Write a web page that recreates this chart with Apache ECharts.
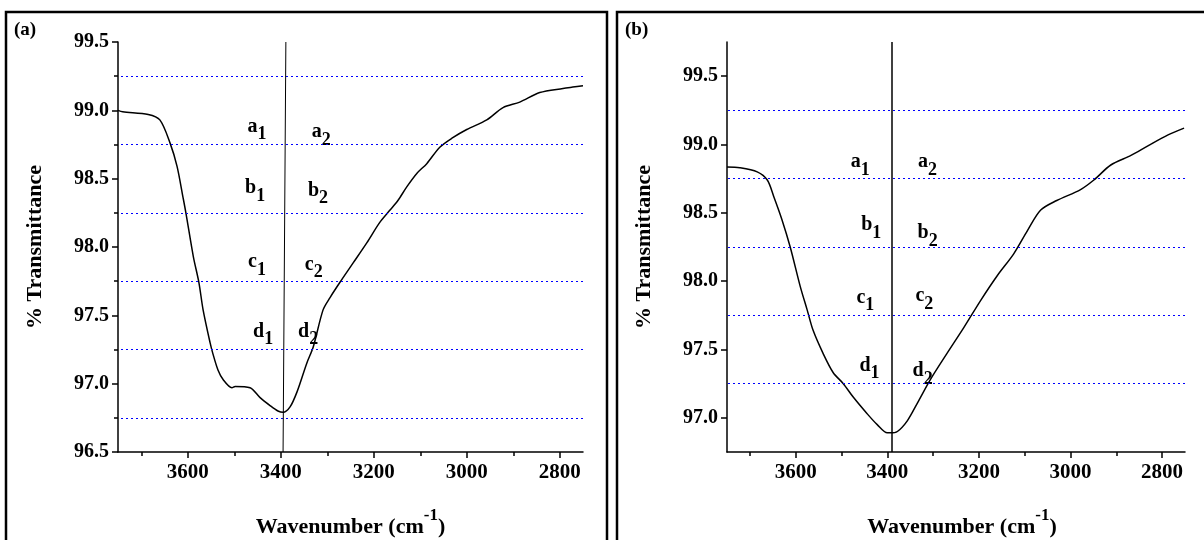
<!DOCTYPE html>
<html><head><meta charset="utf-8">
<script src="https://cdn.jsdelivr.net/npm/echarts@6.0.0/dist/echarts.min.js"></script>
<style>html,body{margin:0;padding:0;background:#fff}#c{width:1204px;height:540px}</style>
</head><body><div id="c"></div>
<script>
// ---- data ----
const waveA = [3750,3740,3685,3660,3638,3623,3610,3604,3588,3576,3567,3552,3546,3535,3524,3505,3498,3466,3445,3423,3406,3395,3380,3365,3344,3330,3309,3294,3273,3245,3215,3187,3165,3148,3129,3107,3086,3058,3030,3000,2957,2922,2886,2843,2793,2772,2750];
const transA = [99.00,98.99,98.97,98.93,98.76,98.59,98.36,98.25,97.93,97.74,97.54,97.30,97.22,97.10,97.03,96.97,96.98,96.97,96.90,96.84,96.80,96.79,96.83,96.94,97.15,97.27,97.54,97.63,97.74,97.88,98.03,98.18,98.27,98.34,98.44,98.54,98.61,98.73,98.80,98.86,98.93,99.02,99.06,99.13,99.16,99.17,99.18];
const waveB = [3750,3722,3684,3662,3648,3630,3612,3590,3575,3562,3540,3518,3496,3474,3444,3422,3400,3393,3378,3356,3334,3306,3270,3233,3196,3160,3124,3094,3065,3030,2978,2949,2912,2868,2831,2787,2752];
const transB = [98.835,98.83,98.80,98.74,98.62,98.45,98.25,97.96,97.79,97.64,97.47,97.33,97.25,97.15,97.03,96.95,96.89,96.89,96.90,96.98,97.11,97.28,97.47,97.66,97.86,98.04,98.20,98.37,98.52,98.59,98.67,98.74,98.85,98.92,98.99,99.07,99.12];
const xMajorTicks = [3600,3400,3200,3000,2800];
const xMinorTicks = [3700,3500,3300,3100,2900];
const yTicksA = [96.5,97.0,97.5,98.0,98.5,99.0,99.5];
const yMinorA = [96.75,97.25,97.75,98.25,98.75,99.25];
const yTicksB = [97.0,97.5,98.0,98.5,99.0,99.5];
const guideLevels = [96.75,97.25,97.75,98.25,98.75,99.25];
const peakLineA = [3389,3395];   // wavenumber at top / bottom of marker line (a)
const peakLineB = [3390,3390];   // (b)
const labelNames = ['a','a','b','b','c','c','d','d'];
const labelSubs = ['1','2','1','2','1','2','1','2'];
const labelWaveA = [3451,3313,3455,3320,3451,3329,3438,3341];
const labelTransA = [98.87,98.83,98.42,98.40,97.88,97.86,97.37,97.37];
const labelWaveB = [3459,3312,3435,3312,3448,3319,3439,3323];
const labelTransB = [98.86,98.86,98.40,98.34,97.87,97.88,97.37,97.33];

const FF = '"Liberation Serif","Times New Roman",serif';
const zip = (a,b) => a.map((v,i)=>[v,b[i]]);

function xAxes(g,shift){
  return [{
    gridIndex:g, type:'value', position:'bottom', min:2750, max:3750, inverse:true,
    axisLine:{show:true,onZero:false,lineStyle:{color:'#000',width:1.5}},
    axisTick:{show:true,customValues:xMajorTicks,length:6,lineStyle:{color:'#000',width:1.5}},
    axisLabel:{customValues:xMajorTicks,formatter:v=>String(v),fontFamily:FF,fontWeight:'bold',fontSize:21,color:'#000',margin:10},
    splitLine:{show:false},
    name:'{t|Wavenumber (cm}{s|-1}{t|)}', nameLocation:'middle', nameGap:55,
    nameTextStyle:{color:'#000',padding:[0,0,0,shift],rich:{
      t:{fontFamily:FF,fontWeight:'bold',fontSize:22,color:'#000',lineHeight:31,verticalAlign:'bottom'},
      s:{fontFamily:FF,fontWeight:'bold',fontSize:17,color:'#000',verticalAlign:'top'}
    }}
  },{
    gridIndex:g, type:'value', position:'bottom', offset:0, min:2750, max:3750, inverse:true,
    axisLine:{show:false,onZero:false},
    axisTick:{show:true,customValues:xMinorTicks,length:4,lineStyle:{color:'#000',width:1.5}},
    axisLabel:{show:false,customValues:xMinorTicks},
    splitLine:{show:false}
  }];
}
function yAxes(g,min,max,ticks,minor){
  const arr = [{
    gridIndex:g, type:'value', position:'left', min:min, max:max,
    axisLine:{show:true,onZero:false,lineStyle:{color:'#000',width:1.5}},
    axisTick:{show:true,customValues:ticks,length:6,lineStyle:{color:'#000',width:1.5}},
    axisLabel:{customValues:ticks,formatter:v=>v.toFixed(1),fontFamily:FF,fontWeight:'bold',fontSize:20,color:'#000',margin:9},
    splitLine:{show:false},
    name:'% Transmittance', nameLocation:'middle', nameRotate:90, nameGap:72,
    nameTextStyle:{fontFamily:FF,fontWeight:'bold',fontSize:22,color:'#000'}
  }];
  if(minor){
    arr.push({
      gridIndex:g, type:'value', position:'left', offset:0, min:min, max:max,
      axisLine:{show:false,onZero:false},
      axisTick:{show:true,customValues:minor,length:4,lineStyle:{color:'#000',width:1.5}},
      axisLabel:{show:false,customValues:minor},
      splitLine:{show:false}
    });
  }
  return arr;
}
function markLines(min,max,peak,peakWidth){
  return {
    silent:true, symbol:['none','none'], label:{show:false}, animation:false,
    data: guideLevels.filter(v=>v>min && v<max).map(v=>({yAxis:v,lineStyle:{color:'#0000ff',type:[2,3],width:1.2}}))
      .concat([[{coord:[peak[0],max],lineStyle:{color:'#000',type:'solid',width:peakWidth}},{coord:[peak[1],min]}]])
  };
}
function labelSeries(xi,yi,ws,ts){
  const tok = {fontFamily:FF,fontWeight:'bold',color:'#000',textBorderWidth:0,textBorderColor:'transparent',textShadowBlur:0};
  return {
    type:'scatter', xAxisIndex:xi, yAxisIndex:yi, symbolSize:0, silent:true,
    itemStyle:{color:'#000'},
    data: zip(ws,ts),
    label:{show:true,position:'inside',offset:[0,2],color:'#000',textBorderWidth:0,textBorderColor:'transparent',opacity:1,
      formatter:p=>'{l|'+labelNames[p.dataIndex]+'}{s|'+labelSubs[p.dataIndex]+'}',
      rich:{
        l:Object.assign({fontSize:20,verticalAlign:'top'},tok),
        s:Object.assign({fontSize:18,lineHeight:27,verticalAlign:'bottom'},tok)
      }}
  };
}

const chart = echarts.init(document.getElementById('c'),null,{renderer:'canvas'});
chart.setOption({
  animation:false,
  backgroundColor:'#fff',
  grid:[
    {left:118,top:42,width:465,height:410,containLabel:false,outerBoundsMode:'none'},
    {left:727,top:42,width:458,height:410,containLabel:false,outerBoundsMode:'none'}
  ],
  xAxis: xAxes(0,0).concat(xAxes(1,12)),
  yAxis: yAxes(0,96.5,99.5,yTicksA,yMinorA).concat(yAxes(1,96.75,99.75,yTicksB,null)),
  series:[
    {type:'line',xAxisIndex:0,yAxisIndex:0,data:zip(waveA,transA),symbol:'none',smooth:0.3,
     lineStyle:{color:'#000',width:1.5},silent:true,markLine:markLines(96.5,99.5,peakLineA,1)},
    labelSeries(0,0,labelWaveA,labelTransA),
    {type:'line',xAxisIndex:2,yAxisIndex:2,data:zip(waveB,transB),symbol:'none',smooth:0.3,
     lineStyle:{color:'#000',width:1.5},silent:true,markLine:markLines(96.75,99.75,peakLineB,1.5)},
    labelSeries(2,2,labelWaveB,labelTransB)
  ],
  graphic:[
    {type:'rect',shape:{x:6,y:12,width:601,height:540},style:{fill:'none',stroke:'#000',lineWidth:2.5},silent:true},
    {type:'rect',shape:{x:617,y:12,width:600,height:540},style:{fill:'none',stroke:'#000',lineWidth:2.5},silent:true},
    {type:'text',left:14,top:21,style:{text:'(a)',font:'bold 19px "Liberation Serif"',fill:'#000'},silent:true},
    {type:'text',left:625,top:21,style:{text:'(b)',font:'bold 19px "Liberation Serif"',fill:'#000'},silent:true}
  ]
});
</script>
</body></html>
